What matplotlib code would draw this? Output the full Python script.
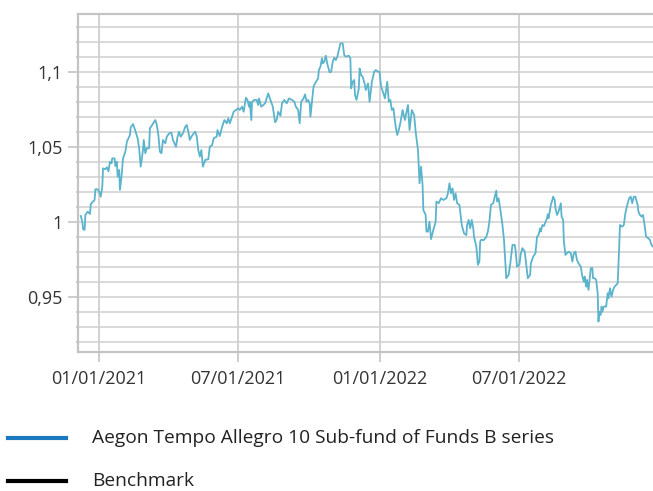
import matplotlib.pyplot as plt
import matplotlib.dates as mdates
from matplotlib.ticker import MultipleLocator, FixedLocator
from matplotlib.lines import Line2D
import numpy as np
import pandas as pd

plt.rcParams['font.family'] = ['Open Sans', 'DejaVu Sans']

# fund price, days counted from 01/01/2021
days = [-24, -22, -21, -19, -18, -15, -12, -11, -6, -5, -2, 0, 2, 4, 5, 8, 10, 12, 14, 16,
        17, 20, 21, 23, 24, 26, 27, 29, 31, 34, 36, 40, 41, 44, 47, 50, 52, 54, 57, 58,
        60, 62, 65, 66, 69, 73, 75, 77, 79, 81, 83, 86, 88, 91, 94, 96, 100, 102, 104, 106,
        109, 112, 114, 116, 118, 120, 123, 125, 127, 129, 131, 133, 135, 138, 142, 144, 147, 149, 153, 154,
        157, 160, 163, 166, 168, 170, 173, 175,
        181, 183, 186, 188, 191, 193, 195, 196, 198, 199, 202, 205, 207, 208, 211, 216, 220, 223, 226, 229,
        231, 233, 236, 238, 241, 244, 247, 251, 254, 256, 259, 261, 263, 266, 268, 270, 272, 274, 275, 277,
        279, 281, 285, 286, 288, 290, 291, 293, 295, 297, 300, 302, 304, 306, 308, 310, 312, 314, 317, 319,
        321, 325, 327, 328, 330, 332, 333, 335, 338, 339, 341, 343, 346, 347, 350, 352, 355, 358, 360, 363,
        365, 367, 370, 372, 375, 377, 379, 381, 383, 386, 388, 390, 392, 395, 398,
        402, 404, 407, 410, 412,
        415, 416, 417, 419, 421, 422, 425, 426, 428, 430, 432, 435, 438, 439, 442, 445, 448, 452, 454, 456,
        458, 460, 462, 464, 466, 469, 472, 475, 478, 479, 481, 483, 485, 487, 488, 491, 493, 495, 496, 497,
        501, 504, 506, 508, 510, 513, 515, 517, 518, 520, 522, 525, 527, 529, 530, 533, 535, 538, 541, 542,
        544, 547,
        549, 551, 554, 556, 558, 561, 562, 565, 568, 570, 572, 574, 575, 577, 579, 583, 584, 585, 588, 590,
        591, 593, 594, 596, 598, 601, 602, 604, 605, 607, 609, 611, 614, 616, 618, 620, 622, 624, 627, 629,
        631, 632, 634, 635, 637, 640, 642, 643, 645, 647, 649, 650, 651, 653, 654, 655, 657, 660, 662, 663,
        665, 667, 669, 671, 675, 677, 678, 681, 683, 685, 688, 690, 692, 694, 696, 698, 701, 702, 704, 706,
        708, 710, 712, 715, 717, 719, 721]

fund = [1.0038, 1.0000, 0.9950, 0.9945, 1.0045, 1.0067, 1.0052, 1.0118, 1.0145, 1.0216, 1.0216, 1.0200, 1.0167, 1.0233, 1.0356, 1.0350, 1.0363, 1.0336, 1.0400, 1.0390,
        1.0422, 1.0422, 1.0371, 1.0400, 1.0300, 1.0345, 1.0212, 1.0300, 1.0422, 1.0467, 1.0533, 1.0578, 1.0629, 1.0651, 1.0607, 1.0556, 1.0490, 1.0367, 1.0478, 1.0545,
        1.0456, 1.0490, 1.0490, 1.0623, 1.0645, 1.0678, 1.0645, 1.0578, 1.0467, 1.0456, 1.0545, 1.0523, 1.0567, 1.0589, 1.0593, 1.0545, 1.0500, 1.0567, 1.0600, 1.0567,
        1.0589, 1.0633, 1.0645, 1.0600, 1.0545, 1.0567, 1.0589, 1.0600, 1.0567, 1.0478, 1.0434, 1.0478, 1.0367, 1.0412, 1.0416, 1.0500, 1.0511, 1.0556, 1.0567, 1.0611,
        1.0571, 1.0633, 1.0678, 1.0656, 1.0689, 1.0656, 1.0700, 1.0733,
        1.0756, 1.0745, 1.0767, 1.0733, 1.0827, 1.0812, 1.0767, 1.0800, 1.0678, 1.0800, 1.0812, 1.0812, 1.0778, 1.0822, 1.0767, 1.0789, 1.0856, 1.0812, 1.0767, 1.0663,
        1.0678, 1.0733, 1.0707, 1.0789, 1.0812, 1.0789, 1.0822, 1.0812, 1.0800, 1.0767, 1.0745, 1.0656, 1.0800, 1.0822, 1.0849, 1.0800, 1.0812, 1.0789, 1.0700, 1.0800,
        1.0900, 1.0922, 1.0956, 1.1011, 1.1033, 1.1089, 1.1056, 1.1067, 1.1107, 1.1051, 1.0996, 1.1000, 1.1067, 1.1093, 1.1078, 1.1100, 1.1145, 1.1189, 1.1189, 1.1111,
        1.1100, 1.1107, 1.1089, 1.0889, 1.0933, 1.0945, 1.0845, 1.0812, 1.0889, 1.1022, 1.0978, 1.0967, 1.0911, 1.0878, 1.0922, 1.0800, 1.0933, 1.1000, 1.1011, 1.1000,
        1.1000, 1.0900, 1.0856, 1.0822, 1.0933, 1.0800, 1.0812, 1.0745, 1.0756, 1.0633, 1.0578, 1.0611, 1.0656, 1.0745, 1.0678,
        1.0778, 1.0611, 1.0745, 1.0711, 1.0600,
        1.0478, 1.0378, 1.0256, 1.0367, 1.0245, 1.0078, 1.0045, 0.9934, 0.9934, 1.0000, 0.9884, 0.9945, 1.0000, 1.0134, 1.0123, 1.0156, 1.0145, 1.0156, 1.0189, 1.0256,
        1.0189, 1.0222, 1.0145, 1.0189, 1.0123, 1.0112, 0.9978, 0.9922, 0.9911, 0.9978, 1.0012, 0.9956, 1.0012, 0.9956, 0.9900, 0.9834, 0.9712, 0.9734, 0.9867, 0.9878,
        0.9878, 0.9900, 0.9934, 1.0000, 1.0112, 1.0123, 1.0167, 1.0207, 1.0134, 1.0156, 1.0090, 0.9978, 0.9878, 0.9712, 0.9623, 0.9645, 0.9712, 0.9845, 0.9845, 0.9812,
        0.9700, 0.9712,
        0.9790, 0.9823, 0.9800, 0.9712, 0.9623, 0.9645, 0.9723, 0.9767, 0.9790, 0.9900, 0.9911, 0.9956, 0.9934, 0.9978, 0.9971, 1.0023, 1.0049, 1.0023, 1.0112, 1.0145,
        1.0167, 1.0145, 1.0090, 1.0045, 1.0067, 1.0123, 1.0034, 1.0012, 0.9867, 0.9778, 0.9790, 0.9800, 0.9790, 0.9734, 0.9790, 0.9800, 0.9745, 0.9723, 0.9700, 0.9634,
        0.9600, 0.9634, 0.9567, 0.9612, 0.9545, 0.9690, 0.9690, 0.9623, 0.9623, 0.9612, 0.9523, 0.9334, 0.9400, 0.9378, 0.9434, 0.9400, 0.9434, 0.9434, 0.9523, 0.9489,
        0.9556, 0.9500, 0.9545, 0.9567, 0.9589, 0.9834, 0.9978, 0.9967, 0.9978, 1.0056, 1.0123, 1.0156, 1.0167, 1.0123, 1.0167, 1.0167, 1.0112, 1.0067, 1.0045, 1.0034,
        1.0045, 0.9978, 0.9900, 0.9889, 0.9878, 0.9845, 0.9834]

y_ticks = [0.95, 1.0, 1.05, 1.1]
y_labels = ['0,95', '1', '1,05', '1,1']
x_ticks = ['2021-01-01', '2021-07-01', '2022-01-01', '2022-07-01']
x_labels = ['01/01/2021', '07/01/2021', '01/01/2022', '07/01/2022']
legend_labels = ['Aegon Tempo Allegro 10 Sub-fund of Funds B series', 'Benchmark']

dates = pd.Timestamp('2021-01-01') + pd.to_timedelta(days, unit='D')

grid_c = '#cfcfcf'
fig = plt.figure(figsize=(6.53, 4.91), dpi=100)
ax = fig.add_axes([0.119, 0.2837, 0.881, 0.6878])

ax.plot(dates, fund, color='#5bb4cc', lw=1.3, zorder=3)

ax.set_xlim(pd.Timestamp('2020-12-04'), pd.Timestamp('2022-12-23'))
ax.set_ylim(0.9133, 1.1385)

ax.xaxis.set_major_locator(FixedLocator(mdates.date2num(pd.to_datetime(x_ticks))))
ax.set_xticklabels(x_labels)
ax.set_yticks(y_ticks)
ax.set_yticklabels(y_labels)
ax.yaxis.set_minor_locator(MultipleLocator(0.01))

ax.grid(True, which='both', axis='y', color=grid_c, lw=1.1, zorder=0)
ax.grid(True, which='major', axis='x', color=grid_c, lw=1.3, zorder=0)

for s in ['left', 'bottom', 'top']:
    ax.spines[s].set_color('#c4c4c4')
    ax.spines[s].set_linewidth(1.6)
ax.spines['right'].set_visible(False)

ax.tick_params(axis='both', which='major', length=7.5, width=1.2, color='#c4c4c4',
               labelsize=13, labelcolor='#333333')
ax.tick_params(axis='y', which='major', pad=3.5)
ax.tick_params(axis='x', which='major', pad=6)
ax.tick_params(axis='y', which='minor', length=1.8, width=1.2, color='#c4c4c4')

# legend drawn below the plot
leg_colors = ['#1a78be', '#000000']
leg_y = [0.108, 0.02]
for c, yy, lab in zip(leg_colors, leg_y, legend_labels):
    fig.add_artist(Line2D([0.012, 0.101], [yy, yy], color=c, lw=3, transform=fig.transFigure))
    fig.text(0.141, yy, lab, fontsize=13.8, color='#222222', va='center', ha='left')

fig.savefig('out.png', dpi=100)
